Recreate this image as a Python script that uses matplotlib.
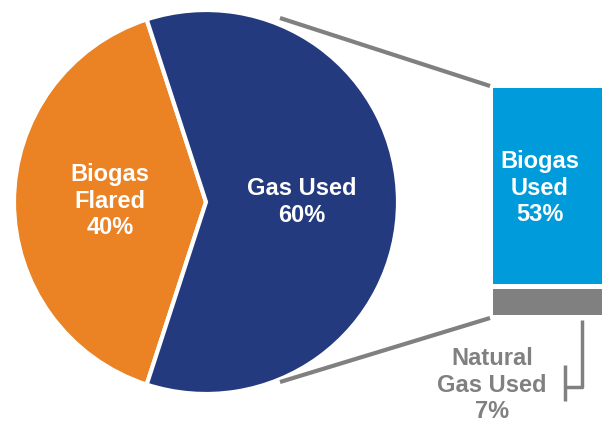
import matplotlib
matplotlib.use('Agg')
import matplotlib.pyplot as plt

# pie: share of total biogas
pie_labels = ['Biogas\nFlared', 'Gas Used']
pie_values = [40, 60]
pie_colors = ['#EB8224', '#233A7E']

# bar: breakdown of gas used
bar_labels = ['Biogas\nUsed', 'Natural\nGas Used']
bar_values = [53, 7]
bar_colors = ['#009BDA', '#808080']

W, H = 602, 425
fig = plt.figure(figsize=(W / 100, H / 100), dpi=100)
ax = fig.add_axes([0, 0, 1, 1])
ax.set_xlim(0, W)
ax.set_ylim(0, H)
ax.set_aspect('equal')
ax.axis('off')

font = dict(family=['Liberation Sans', 'DejaVu Sans'], weight='bold', fontsize=17)
ls = 1.22

# pie (pixel coords, y from bottom)
cx, cy, r = 206, H - 202, 192
wedges, _ = ax.pie(pie_values, colors=pie_colors, center=(cx, cy), radius=r,
                   startangle=108, counterclock=True,
                   wedgeprops=dict(edgecolor='white', linewidth=3))
ax.set_xlim(0, W)
ax.set_ylim(0, H)
ax.text(110, H - 201, f"{pie_labels[0]}\n{pie_values[0]}%", color='white',
        ha='center', va='center', linespacing=ls, **font)
ax.text(302, H - 202, f"{pie_labels[1]}\n{pie_values[1]}%", color='white',
        ha='center', va='center', linespacing=ls, **font)

# stacked bar
bx, bw = 493, 112
top = H - 88
scale = 3.7
gap = 5
h1 = bar_values[0] * scale
h2 = bar_values[1] * scale
ax.bar(bx, h1, width=bw, bottom=top - h1, color=bar_colors[0], align='edge')
ax.bar(bx, h2, width=bw, bottom=top - h1 - gap - h2, color=bar_colors[1],
       align='edge')
bar_bottom = top - h1 - gap - h2
ax.text(540, H - 188, f"{bar_labels[0]}\n{bar_values[0]}%",
        color='white', ha='center', va='center', linespacing=ls, **font)

# connector lines
ax.plot([280, 490], [H - 18, H - 86], color='#808080', lw=3,
        solid_capstyle='butt')
ax.plot([280, 490], [H - 382, bar_bottom - 3], color='#808080', lw=3,
        solid_capstyle='butt')

# bracket for natural gas label
ax.plot([582, 582, 565], [bar_bottom - 5, H - 387, H - 387], color='#808080',
        lw=2.5, solid_capstyle='butt')
ax.plot([565, 565], [H - 365, H - 401], color='#808080', lw=2.5,
        solid_capstyle='butt')
ax.text(492, H - 385, f"{bar_labels[1]}\n{bar_values[1]}%", color='#808080',
        ha='center', va='center', linespacing=ls, **font)

fig.savefig('out.png', dpi=100)
